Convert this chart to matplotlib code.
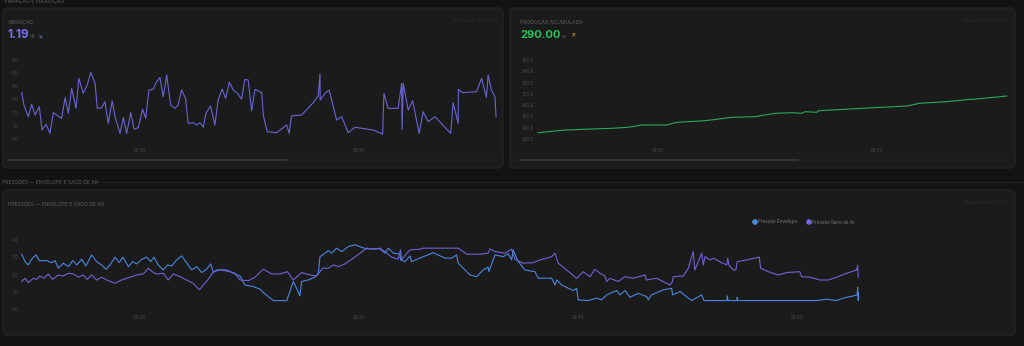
import matplotlib
matplotlib.use("Agg")
import matplotlib.pyplot as plt
from matplotlib.patches import FancyBboxPatch
from matplotlib.ticker import FuncFormatter

plt.rcParams['font.family'] = ['Inter', 'DejaVu Sans']

# vibration (Hz), time in minutes after 09:00
vib_t = [14.60, 14.70, 14.90, 15.05, 15.21, 15.40, 15.53, 15.71, 15.89, 16.04,
         16.19, 16.42, 16.58, 16.73, 16.88, 17.08, 17.21, 17.41, 17.59, 17.75,
         17.95, 18.05, 18.25, 18.40, 18.55, 18.73, 18.86, 19.09, 19.24, 19.39,
         19.58, 19.73, 19.92, 20.12, 20.26, 20.41, 20.60, 20.73, 20.91, 21.06,
         21.22, 21.40, 21.60, 21.74, 21.90, 22.08, 22.20, 22.43, 22.58, 22.74,
         22.89, 23.01, 23.22, 23.42, 23.57, 23.75, 23.91, 24.08, 24.26, 24.46,
         24.64, 24.79, 24.94, 25.10, 25.25, 25.56, 25.63, 25.81, 26.24, 26.70,
         26.81, 26.92, 27.38, 27.91, 28.14, 28.22, 28.23, 28.45, 28.64, 28.98,
         29.21, 29.51, 29.82, 30.65, 31.08, 31.14, 31.33, 31.79, 31.95, 31.97,
         32.02, 32.25, 32.45, 32.75, 32.93, 33.16, 33.47, 34.19, 34.30, 34.53,
         34.54, 34.73, 35.37, 35.60, 35.82, 35.90, 36.05, 36.21, 36.26]
vib_v = [3.52, 2.58, 1.69, 2.63, 1.82, 2.45, 0.68, 1.12, 0.43, 2.00,
         1.82, 1.57, 3.14, 1.95, 3.85, 2.33, 4.61, 3.47, 4.10, 5.06,
         4.23, 2.33, 2.38, 2.83, 1.19, 2.91, 1.69, 0.43, 1.62, 0.43,
         2.00, 0.74, 0.86, 2.26, 1.57, 3.72, 3.77, 4.27, 4.68, 3.21,
         4.86, 2.58, 2.33, 2.58, 3.72, 3.09, 1.19, 1.24, 1.06, 1.24,
         0.89, 1.95, 2.51, 1.06, 2.96, 3.80, 3.09, 4.31, 3.72, 3.47,
         3.01, 4.53, 4.48, 2.13, 3.77, 3.52, 1.82, 0.55, 0.48, 1.06,
         0.43, 1.75, 1.82, 2.76, 3.27, 4.94, 2.96, 3.47, 3.72, 1.44,
         1.69, 0.48, 0.89, 0.68, 0.38, 3.47, 2.33, 2.33, 4.23, 0.74,
         4.23, 2.20, 2.91, 0.43, 2.07, 1.31, 1.69, 0.43, 2.76, 1.19,
         3.77, 3.52, 3.59, 4.61, 3.17, 4.86, 3.72, 3.21, 1.69]

# accumulated production (un)
prod_t = [14.53, 15.75, 17.89, 18.64, 19.26, 20.40, 20.85, 22.15, 23.37, 24.43,
          25.34, 26.11, 26.56, 26.71, 27.25, 27.32, 29.83, 31.36, 31.81, 31.89,
          33.18, 34.25, 34.40, 35.92]
prod_v = [231.1, 235.9, 238.9, 240.7, 244.8, 244.8, 249.5, 252.4, 258.4, 259.5,
          265.5, 266.6, 265.5, 268.3, 267.3, 270.1, 275.4, 278.4, 282.0, 283.2,
          286.1, 290.3, 290.3, 296.2]

# pressures
env_t = [14.60, 14.75, 14.90, 15.05, 15.25, 15.40, 15.74, 15.97, 16.12, 16.27,
         16.50, 16.73, 16.93, 17.11, 17.34, 17.53, 17.79, 18.02, 18.25, 18.45,
         18.63, 18.86, 19.05, 19.21, 19.47, 19.67, 19.85, 20.08, 20.31, 20.49,
         20.64, 20.83, 21.06, 21.26, 21.45, 21.67, 21.90, 22.13, 22.36, 22.59,
         22.82, 23.04, 23.23, 23.35, 23.50, 23.96, 24.26, 24.57, 24.79, 25.17,
         25.48, 25.71, 26.09, 26.70, 27.00, 27.15, 27.30, 27.38, 27.68, 27.99,
         28.14, 28.22, 28.45, 28.60, 28.75, 28.98, 29.21, 29.51, 29.82, 30.12,
         30.35, 30.96, 31.19, 31.34, 31.57, 31.87, 31.90, 32.10, 32.33, 32.40,
         32.94, 33.39, 33.93, 34.23, 34.46, 34.53, 34.84, 35.07, 35.37, 35.67,
         35.90, 35.93, 36.21, 36.59, 36.82, 36.97, 37.04, 37.27, 37.58, 38.03,
         38.19, 38.80, 38.95, 39.03, 39.25, 39.78, 39.94, 40.01, 40.47, 40.85,
         41.08, 41.31, 41.77, 41.92, 42.15, 42.37, 42.75, 43.14, 43.21, 43.36,
         43.89, 44.28, 44.32, 44.66, 45.04, 45.19, 45.65, 45.75, 46.79, 46.82,
         46.85, 47.25, 47.27, 47.30, 50.90, 51.36, 51.81, 52.11, 52.57, 52.75,
         52.77, 52.80, 52.81]
env_v = [3.18, 2.75, 2.56, 2.89, 3.14, 2.81, 2.81, 2.69, 2.81, 2.37,
         2.66, 2.46, 2.81, 2.56, 2.89, 2.50, 3.14, 2.75, 2.56, 2.31,
         2.56, 3.01, 2.69, 3.01, 2.46, 2.75, 2.62, 2.89, 3.01, 2.75,
         3.01, 2.56, 2.27, 2.56, 2.50, 2.85, 3.08, 2.69, 2.27, 2.46,
         2.12, 2.31, 2.62, 2.12, 2.27, 2.27, 2.08, 1.92, 1.40, 1.31,
         1.16, 0.88, 0.50, 0.50, 1.60, 1.21, 0.77, 1.60, 1.69, 1.85,
         2.08, 3.04, 3.24, 3.39, 3.24, 3.53, 3.33, 3.62, 3.72, 3.58,
         3.49, 3.49, 3.24, 3.53, 3.24, 3.20, 2.85, 2.75, 3.08, 2.75,
         3.04, 3.27, 2.95, 2.95, 3.14, 2.66, 2.27, 1.98, 1.88, 2.27,
         2.43, 2.17, 3.14, 3.04, 3.20, 2.85, 3.43, 2.75, 2.27, 2.17,
         1.79, 1.79, 1.40, 1.69, 1.40, 1.08, 1.21, 0.54, 0.50, 0.64,
         0.54, 0.83, 1.08, 0.83, 1.08, 0.69, 0.92, 0.73, 0.54, 0.83,
         1.12, 1.21, 0.83, 1.02, 0.64, 0.50, 0.83, 0.50, 0.50, 0.77,
         0.50, 0.50, 0.69, 0.50, 0.50, 0.58, 0.50, 0.64, 0.77, 0.83,
         1.27, 0.50, 0.95]
saco_t = [14.60, 14.75, 14.90, 15.13, 15.28, 15.43, 15.62, 15.81, 16.01, 16.27,
          16.50, 16.73, 16.95, 17.18, 17.41, 17.59, 17.79, 18.02, 18.25, 18.48,
          18.86, 19.16, 19.54, 19.85, 20.15, 20.38, 20.61, 20.76, 21.06, 21.29,
          21.52, 21.83, 22.13, 22.43, 22.71, 22.89, 23.12, 23.35, 23.65, 24.11,
          24.34, 24.57, 24.95, 25.25, 25.63, 26.01, 26.39, 26.73, 27.00, 27.38,
          27.76, 28.07, 28.34, 28.60, 28.83, 29.05, 29.36, 29.74, 30.05, 30.35,
          30.65, 30.96, 31.27, 31.49, 31.79, 31.90, 31.95, 32.18, 32.33, 32.78,
          32.94, 34.53, 34.92, 35.52, 35.90, 35.98, 36.21, 36.67, 36.97, 37.12,
          37.50, 37.96, 38.26, 38.57, 38.80, 38.95, 39.10, 39.48, 39.94, 40.24,
          40.55, 40.77, 41.00, 41.23, 41.31, 41.46, 41.84, 42.14, 42.52, 43.06,
          43.13, 43.59, 44.20, 44.32, 44.35, 44.81, 45.04, 45.26, 45.34, 45.65,
          45.72, 45.80, 46.03, 46.18, 46.56, 46.79, 46.84, 46.89, 47.09, 47.21,
          47.27, 47.70, 48.28, 48.34, 48.69, 49.14, 49.53, 50.13, 50.21, 50.59,
          51.05, 51.43, 51.81, 52.27, 52.73, 52.77, 52.80]
saco_v = [1.60, 1.79, 1.54, 1.79, 1.73, 1.92, 1.79, 2.04, 1.73, 1.98,
          1.92, 2.08, 2.04, 1.85, 1.98, 1.73, 1.98, 1.69, 1.85, 1.69,
          1.50, 1.69, 1.85, 1.98, 2.04, 2.37, 2.12, 2.04, 2.08, 1.69,
          2.04, 1.88, 1.69, 1.50, 1.12, 1.40, 1.73, 2.17, 2.27, 2.17,
          2.08, 1.69, 1.65, 1.85, 2.31, 2.04, 2.04, 2.17, 1.69, 2.12,
          1.98, 1.92, 2.37, 2.37, 2.56, 2.46, 2.62, 2.95, 3.24, 3.53,
          3.47, 3.53, 3.24, 3.01, 2.89, 3.43, 2.85, 3.24, 3.43, 3.47,
          3.53, 3.53, 3.18, 3.18, 3.24, 3.49, 3.33, 3.24, 3.47, 2.89,
          2.66, 2.69, 2.85, 2.95, 3.04, 3.24, 2.66, 2.27, 1.79, 2.17,
          1.88, 2.31, 2.08, 1.92, 1.60, 1.79, 1.60, 1.88, 1.79, 1.98,
          1.69, 1.79, 1.40, 1.60, 1.88, 1.92, 2.37, 3.33, 2.27, 3.24,
          2.56, 3.04, 2.85, 2.95, 2.69, 2.56, 2.95, 2.56, 2.27, 2.27,
          2.75, 2.85, 3.01, 2.37, 2.17, 1.98, 2.12, 2.17, 1.88, 1.85,
          1.69, 1.69, 1.85, 2.08, 2.27, 2.56, 1.85]

vib_yticks = [0, 1, 2, 3, 4, 5, 6]
prod_yticks = [220, 240, 260, 280, 300, 320, 340, 360]
pres_yticks = [0, 1, 2, 3, 4]
top_xticks = [20, 30]
pres_xticks = [20, 30, 40, 50]

PAGE = '#131313'
PANEL = '#1b1b1b'
EDGE = '#262626'
TICK = '#4a4a4a'
LABEL = '#5e5e5e'
FAINT = '#2c2c2c'
W, H = 1024, 346

fig = plt.figure(figsize=(W / 100, H / 100), dpi=100, facecolor=PAGE)
bg = fig.add_axes([0, 0, 1, 1])
bg.set_xlim(0, W)
bg.set_ylim(H, 0)
bg.axis('off')


def panel(x0, y0, x1, y1):
    bg.add_patch(FancyBboxPatch((x0, y0), x1 - x0, y1 - y0,
                                boxstyle='round,pad=0,rounding_size=4',
                                fc=PANEL, ec=EDGE, lw=0.8))


panel(3, 8, 503, 168)
panel(510, 8, 1015, 168)
panel(3, 190, 1015, 335)

# section headers (the top one is cut by the page edge, as in the screenshot)
bg.text(4, 1, 'VIBRAÇÃO E PRODUÇÃO', fontsize=3.6, color=LABEL, va='center')
bg.text(2, 182, 'PRESSÕES — ENVELOPE E SACO DE AR', fontsize=3.6, color=LABEL, va='center')
bg.plot([97, 1024], [182, 182], color='#262626', lw=0.6)

# panel titles
bg.text(8, 22, 'VIBRAÇÃO', fontsize=3.6, color=LABEL, va='center')
bg.text(8, 35, '1.19', fontsize=8.5, fontweight='bold', color='#7a6ff0', va='center')
bg.text(30, 37, 'Hz', fontsize=3.2, color=LABEL, va='center')
bg.text(37, 35.5, '↘', fontsize=4.5, color='#4a86e0', va='center')

bg.text(520, 22, 'PRODUÇÃO ACUMULADA', fontsize=3.6, color=LABEL, va='center')
bg.text(520, 35, '290.00', fontsize=8, fontweight='bold', color='#27c35f', va='center')
bg.text(562, 37, 'un', fontsize=3.2, color=LABEL, va='center')
bg.text(570, 35.5, '↗', fontsize=4.5, color='#c9a83a', va='center')

bg.text(8, 204, 'PRESSÕES — ENVELOPE E SACO DE AR', fontsize=3.6, color=LABEL, va='center')

for xr, yr in [(497, 20), (1007, 20), (1007, 202)]:
    bg.text(xr, yr, 'Atualizado às 09:53', fontsize=3.4, color=FAINT,
            ha='right', va='center')

# scroll bars
bg.plot([8, 497], [160, 160], color='#222222', lw=1.2, solid_capstyle='round')
bg.plot([8, 287], [160, 160], color='#3a3a3a', lw=1.2, solid_capstyle='round')
bg.plot([520, 1008], [160, 160], color='#222222', lw=1.2, solid_capstyle='round')
bg.plot([520, 798], [160, 160], color='#3a3a3a', lw=1.2, solid_capstyle='round')

# legend
bg.scatter([755, 809], [222, 222], s=9, c=['#4a8fe6', '#7069e0'], zorder=3)
bg.text(758, 222, 'Pressão Envelope', fontsize=3.3, color='#7a7a7a', va='center')
bg.text(812, 222, 'Pressão Saco de Ar', fontsize=3.3, color='#7a7a7a', va='center')


def add_ax(x0, y0, x1, y1):
    ax = fig.add_axes([x0 / W, 1 - y1 / H, (x1 - x0) / W, (y1 - y0) / H])
    ax.set_facecolor('none')
    for s in ax.spines.values():
        s.set_visible(False)
    ax.tick_params(length=0, labelsize=3.2, labelcolor=TICK, pad=2)
    ax.xaxis.set_major_formatter(FuncFormatter(lambda m, _: '09:%02d' % int(m)))
    return ax


fmt1 = FuncFormatter(lambda v, _: '%.1f' % v)

ax1 = add_ax(21, 55, 498, 145)
ax1.plot(vib_t, vib_v, color='#6a63d6', lw=0.8)
ax1.set_xlim(14.566, 36.35)
ax1.set_ylim(-0.456, 6.38)
ax1.set_yticks(vib_yticks)
ax1.yaxis.set_major_formatter(fmt1)
ax1.set_xticks(top_xticks)

ax2 = add_ax(537, 55, 1010, 145)
ax2.plot(prod_t, prod_v, color='#2ba85a', lw=0.8)
ax2.set_xlim(14.475, 36.07)
ax2.set_ylim(209.3, 368.9)
ax2.set_yticks(prod_yticks)
ax2.yaxis.set_major_formatter(fmt1)
ax2.set_xticks(top_xticks)

ax3 = add_ax(21, 235, 1005, 312)
ax3.plot(env_t, env_v, color='#4a86e0', lw=0.8)
ax3.plot(saco_t, saco_v, color='#6e62d8', lw=0.8)
ax3.set_xlim(14.566, 59.5)
ax3.set_ylim(-0.16, 4.29)
ax3.set_yticks(pres_yticks)
ax3.yaxis.set_major_formatter(fmt1)
ax3.set_xticks(pres_xticks)

fig.savefig('out.png', dpi=100, facecolor=PAGE)
